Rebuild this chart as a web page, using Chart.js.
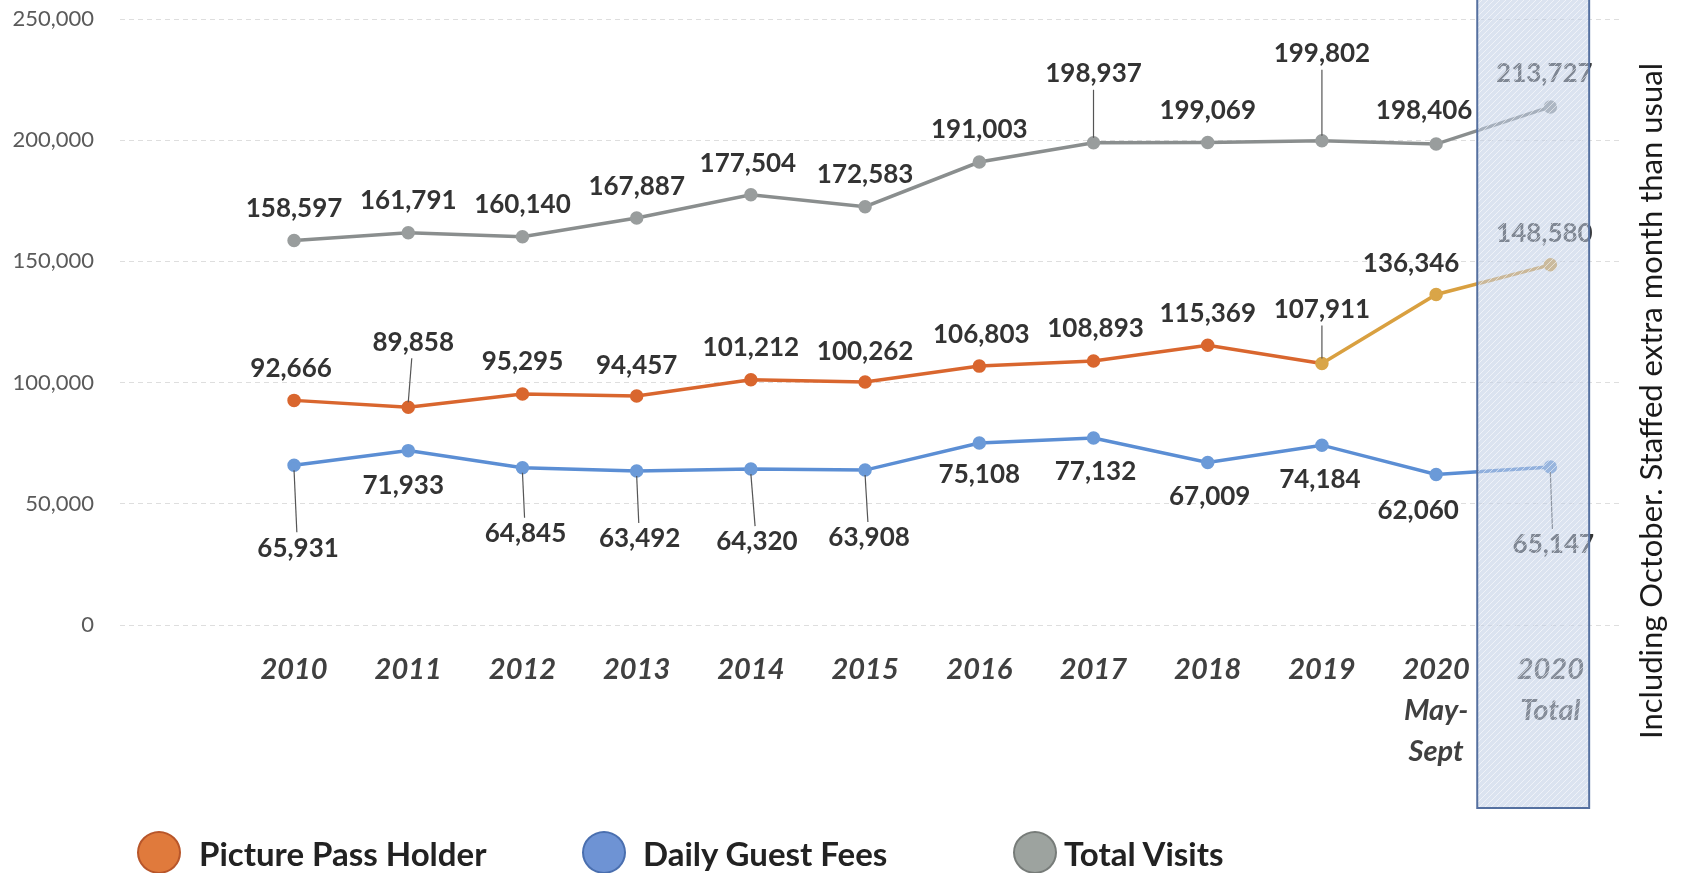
<!DOCTYPE html>
<html>
<head>
<meta charset="utf-8">
<script src="https://cdn.jsdelivr.net/npm/chart.js@4.4.1/dist/chart.umd.min.js"></script>
<style>
    body { margin: 0; background: #fff; }
    #wrap { position: relative; width: 1690px; height: 873px; overflow: hidden; }
    #chart { position: absolute; left: 0; top: 0; }
    .legend-dot { position: absolute; top: 831px; width: 44px; height: 43px; border-radius: 50%; box-sizing: border-box; }
    .legend-text { position: absolute; top: 832px; line-height: 42px;
        font-family: Lato, "Open Sans", sans-serif; font-weight: bold; font-size: 33px; color: #222; }
</style>
</head>
<body>
<div id="wrap">
    <canvas id="chart" width="1690" height="873"></canvas>
    <span class="legend-dot" style="left:137px;background:#E07A3C;border:2px solid #B8562A"></span>
    <span class="legend-text" style="left:199px">Picture Pass Holder</span>
    <span class="legend-dot" style="left:582px;background:#6E93D4;border:2px solid #4A6FAF"></span>
    <span class="legend-text" style="left:643px">Daily Guest Fees</span>
    <span class="legend-dot" style="left:1013px;background:#9DA39F;border:2px solid #777c79"></span>
    <span class="legend-text" style="left:1064px">Total Visits</span>
</div>
<script>
    "use strict";

    // Data
    var categories = ['2010', '2011', '2012', '2013', '2014', '2015', '2016', '2017', '2018', '2019', '2020\nMay-\nSept', '2020\nTotal'];
    var picturePass = [92666, 89858, 95295, 94457, 101212, 100262, 106803, 108893, 115369, 107911, 136346, 148580];
    var dailyGuest = [65931, 71933, 64845, 63492, 64320, 63908, 75108, 77132, 67009, 74184, 62060, 65147];
    var totalVisits = [158597, 161791, 160140, 167887, 177504, 172583, 191003, 198937, 199069, 199802, 198406, 213727];
    var yTicks = [0, 50000, 100000, 150000, 200000, 250000];
    var noteText = 'Including October. Staffed extra month than usual';

    // label offsets from each point [dx, dy] (px)
    var offPicture = [[-3,-32],[5,-65],[0,-32],[0,-30],[0,-32],[0,-30],[2,-32],[2,-32],[0,-32],[0,-54],[-25,-31],[-6,-31]];
    var offDaily = [[4,83],[-5,35],[3,66],[3,68],[6,73],[4,68],[0,32],[2,34],[2,34],[-2,34],[-18,36],[3,78]];
    var offTotal = [[0,-32],[0,-32],[0,-32],[0,-31],[-3,-31],[0,-32],[0,-32],[0,-69],[0,-32],[0,-87],[-12,-33],[-6,-33]];

    function toPoints(arr) {
        return arr.map(function (v, i) { return {x: i, y: v}; });
    }
    function fmt(v) {
        return v.toLocaleString('en-US');
    }

    var pattern = (function () {
        var c = document.createElement('canvas');
        c.width = 6; c.height = 6;
        var g = c.getContext('2d');
        g.strokeStyle = 'rgba(255,255,255,0.55)';
        g.lineWidth = 1;
        g.beginPath(); g.moveTo(0, 6); g.lineTo(6, 0); g.stroke();
        return g.createPattern(c, 'repeat');
    })();

    // data labels + leader lines
    var valueLabels = {
        id: 'valueLabels',
        afterDatasetsDraw: function (chart) {
            var ctx = chart.ctx;
            ctx.save();
            ctx.font = 'bold 26px Lato, "Open Sans", sans-serif';
            ctx.textAlign = 'center';
            ctx.textBaseline = 'middle';
            chart.data.datasets.forEach(function (ds, di) {
                var meta = chart.getDatasetMeta(di);
                meta.data.forEach(function (pt, i) {
                    var o = ds.labelOffsets[i];
                    var lx = pt.x + o[0], ly = pt.y + o[1];
                    if (Math.abs(o[1]) > 45) {
                        var dir = o[1] > 0 ? 1 : -1;
                        ctx.strokeStyle = '#555';
                        ctx.lineWidth = 1.2;
                        ctx.beginPath();
                        ctx.moveTo(pt.x, pt.y + dir * 5);
                        ctx.lineTo(lx - o[0] * 0.3, ly - dir * 16);
                        ctx.stroke();
                    }
                    ctx.fillStyle = '#333';
                    ctx.fillText(fmt(ds.data[i].y), lx, ly);
                });
            });
            ctx.restore();
        }
    };

    // shaded 2020 Total box + side note
    var overlay = {
        id: 'overlay',
        afterDraw: function (chart) {
            var ctx = chart.ctx;
            var xs = chart.scales.x;
            var x0 = xs.getPixelForValue(10.36), x1 = xs.getPixelForValue(11.34);
            ctx.save();
            ctx.fillStyle = 'rgba(190,204,228,0.55)';
            ctx.fillRect(x0, 0, x1 - x0, 808);
            ctx.fillStyle = pattern;
            ctx.fillRect(x0, 0, x1 - x0, 808);
            ctx.strokeStyle = '#5570A0';
            ctx.lineWidth = 2;
            ctx.strokeRect(x0, -5, x1 - x0, 813);

            ctx.translate(1652, 401);
            ctx.rotate(-Math.PI / 2);
            ctx.font = '31px Lato, "Open Sans", sans-serif';
            ctx.fillStyle = '#1a1a1a';
            ctx.textAlign = 'center';
            ctx.textBaseline = 'middle';
            ctx.fillText(noteText, 0, 0);
            ctx.restore();
        }
    };

    var ctx = document.getElementById('chart').getContext('2d');
    var myChart = new Chart(ctx, {
        type: 'line',
        data: {
            datasets: [{
                label: 'Picture Pass Holder',
                data: toPoints(picturePass),
                labelOffsets: offPicture,
                borderColor: '#D9662E',
                backgroundColor: '#D9662E',
                pointBackgroundColor: function (c) { return c.dataIndex >= 9 ? '#D9A548' : '#D9662E'; },
                pointBorderColor: function (c) { return c.dataIndex >= 9 ? '#D9A548' : '#D9662E'; },
                segment: {
                    borderColor: function (c) { return c.p0DataIndex >= 9 ? '#D9A040' : '#D9662E'; }
                },
                borderWidth: 3.5,
                pointRadius: 5
            }, {
                label: 'Daily Guest Fees',
                data: toPoints(dailyGuest),
                labelOffsets: offDaily,
                borderColor: '#5B8ED4',
                backgroundColor: '#6B9AD8',
                pointBorderColor: '#6B9AD8',
                borderWidth: 3.5,
                pointRadius: 5
            }, {
                label: 'Total Visits',
                data: toPoints(totalVisits),
                labelOffsets: offTotal,
                borderColor: '#8A8E8E',
                backgroundColor: '#999d9d',
                pointBorderColor: '#999d9d',
                borderWidth: 3.5,
                pointRadius: 5
            }]
        },
        options: {
            responsive: false,
            animation: false,
            layout: { padding: { top: 19, right: 70, left: 0, bottom: 0 } },
            plugins: {
                legend: { display: false },
                tooltip: { enabled: false }
            },
            scales: {
                x: {
                    type: 'linear',
                    min: -1.524,
                    max: 11.61,
                    afterBuildTicks: function (scale) {
                        scale.ticks = categories.map(function (c, i) { return {value: i}; });
                    },
                    afterFit: function (scale) { scale.height = 248; },
                    ticks: {
                        autoSkip: false,
                        maxRotation: 0,
                        padding: 16,
                        color: '#404040',
                        font: { family: 'Lato, "Open Sans", sans-serif', size: 29, weight: 'bold', style: 'italic', lineHeight: 1.42 },
                        callback: function (v) { return categories[v] ? categories[v].split('\n') : ''; }
                    },
                    grid: { display: false },
                    border: { display: false }
                },
                y: {
                    min: 0,
                    max: 250000,
                    afterBuildTicks: function (scale) {
                        scale.ticks = yTicks.map(function (v) { return {value: v}; });
                    },
                    afterFit: function (scale) { scale.width = 120; },
                    ticks: {
                        padding: 0,
                        color: '#5a5a5a',
                        font: { family: 'Lato, "Open Sans", sans-serif', size: 22 },
                        callback: function (v) { return fmt(v); }
                    },
                    grid: { color: 'rgba(0,0,0,0.13)', drawTicks: true, tickLength: 26, tickColor: 'rgba(0,0,0,0)', lineWidth: 1 },
                    border: { display: false, dash: [5, 4] }
                }
            }
        },
        plugins: [valueLabels, overlay]
    });
</script>
</body>
</html>
